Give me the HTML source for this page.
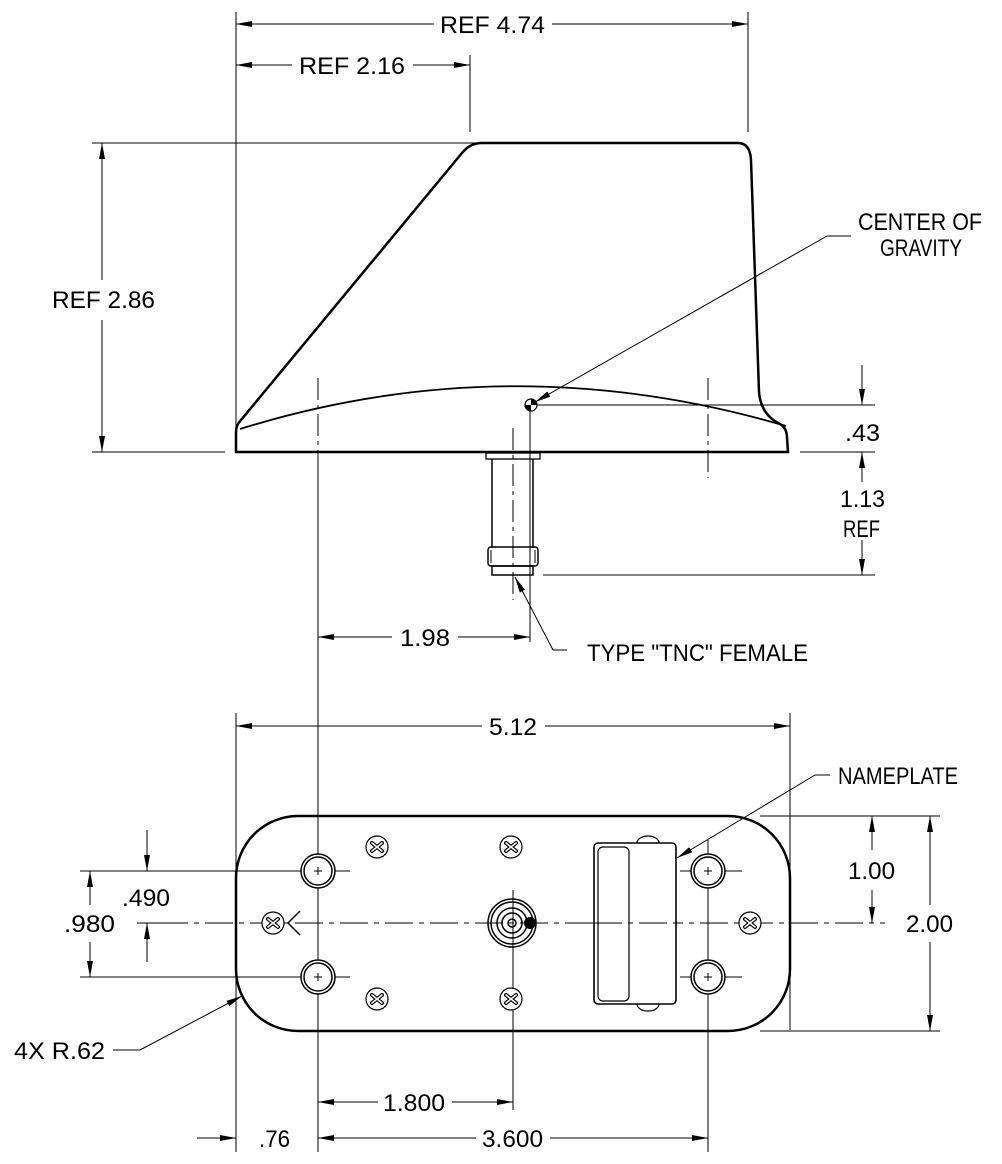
<!DOCTYPE html>
<html><head><meta charset="utf-8"><style>
html,body{margin:0;padding:0;background:#fff;}
svg{display:block;}
text{font-family:"Liberation Sans",sans-serif;font-size:24px;fill:#000;}
</style></head><body>
<svg width="1002" height="1164" viewBox="0 0 1002 1164" xmlns="http://www.w3.org/2000/svg">
<defs>
<marker id="a" viewBox="0 0 16 6" refX="16" refY="3" markerWidth="16" markerHeight="6" markerUnits="userSpaceOnUse" orient="auto"><path d="M0,0 L16,3 L0,6 Z" fill="#000"/></marker>
<g id="scr"><circle r="11" fill="#fff" stroke="#000" stroke-width="1.2"/><path d="M-5,-4 L5,4 M-5,4 L5,-4" stroke="#000" stroke-width="4" stroke-linecap="round"/><path d="M-5,-4 L5,4 M-5,4 L5,-4" stroke="#fff" stroke-width="1.6" stroke-linecap="round"/></g>
<g id="hole"><circle r="17" fill="#fff" stroke="#000" stroke-width="1.5"/><circle r="14" fill="none" stroke="#000" stroke-width="1.5"/><path d="M-4,0 H4 M0,-4 V4" stroke="#000" stroke-width="1"/></g>
</defs>
<g stroke="#000" stroke-width="1" fill="none">
<line x1="236" y1="12" x2="236" y2="452"/>
<line x1="236" y1="713" x2="236" y2="1152"/>
<line x1="748" y1="12" x2="748" y2="132"/>
<line x1="470" y1="55" x2="470" y2="132"/>
<line x1="92" y1="143" x2="478" y2="143"/>
<line x1="92" y1="452" x2="225" y2="452"/>
<line x1="318" y1="452" x2="318" y2="1152"/>
<line x1="708" y1="378" x2="708" y2="478" stroke-dasharray="22,5,4,5"/>
<line x1="513" y1="428" x2="513" y2="600" stroke-dasharray="22,5,4,5"/>
<line x1="530" y1="400" x2="530" y2="642"/>
<line x1="535" y1="405" x2="875" y2="405"/>
<line x1="800" y1="452" x2="875" y2="452"/>
<line x1="543" y1="575" x2="875" y2="575"/>
<line x1="790" y1="713" x2="790" y2="1030"/>
<line x1="760" y1="816" x2="940" y2="816"/>
<line x1="760" y1="1031" x2="940" y2="1031"/>
<line x1="80" y1="871" x2="350" y2="871"/>
<line x1="80" y1="977" x2="350" y2="977"/>
<line x1="680" y1="871" x2="742" y2="871"/>
<line x1="680" y1="977" x2="742" y2="977"/>
<line x1="513" y1="890" x2="513" y2="1110"/>
<line x1="708" y1="840" x2="708" y2="1152"/>
<line x1="434" y1="24" x2="236" y2="24" marker-end="url(#a)"/>
<line x1="552" y1="24" x2="748" y2="24" marker-end="url(#a)"/>
<line x1="292" y1="65" x2="236" y2="65" marker-end="url(#a)"/>
<line x1="413" y1="65" x2="470" y2="65" marker-end="url(#a)"/>
<line x1="102" y1="280" x2="102" y2="143" marker-end="url(#a)"/>
<line x1="102" y1="320" x2="102" y2="452" marker-end="url(#a)"/>
<line x1="862" y1="365" x2="862" y2="405" marker-end="url(#a)"/>
<line x1="862" y1="482" x2="862" y2="452" marker-end="url(#a)"/>
<line x1="862" y1="540" x2="862" y2="575" marker-end="url(#a)"/>
<line x1="392" y1="637" x2="318" y2="637" marker-end="url(#a)"/>
<line x1="458" y1="637" x2="530" y2="637" marker-end="url(#a)"/>
<line x1="482" y1="726" x2="236" y2="726" marker-end="url(#a)"/>
<line x1="545" y1="726" x2="790" y2="726" marker-end="url(#a)"/>
<line x1="872" y1="850" x2="872" y2="816" marker-end="url(#a)"/>
<line x1="872" y1="890" x2="872" y2="923" marker-end="url(#a)"/>
<line x1="930" y1="905" x2="930" y2="816" marker-end="url(#a)"/>
<line x1="930" y1="942" x2="930" y2="1031" marker-end="url(#a)"/>
<line x1="147" y1="830" x2="147" y2="871" marker-end="url(#a)"/>
<line x1="147" y1="962" x2="147" y2="923" marker-end="url(#a)"/>
<line x1="137" y1="923" x2="160" y2="923"/>
<line x1="90" y1="905" x2="90" y2="871" marker-end="url(#a)"/>
<line x1="90" y1="942" x2="90" y2="977" marker-end="url(#a)"/>
<line x1="378" y1="1102" x2="318" y2="1102" marker-end="url(#a)"/>
<line x1="452" y1="1102" x2="513" y2="1102" marker-end="url(#a)"/>
<line x1="476" y1="1138" x2="318" y2="1138" marker-end="url(#a)"/>
<line x1="550" y1="1138" x2="708" y2="1138" marker-end="url(#a)"/>
<line x1="197" y1="1138" x2="236" y2="1138" marker-end="url(#a)"/>
<polyline points="851,236 827,236"/>
<line x1="827" y1="236" x2="535" y2="402" marker-end="url(#a)"/>
<polyline points="567,650 553,650"/>
<line x1="553" y1="650" x2="515" y2="577" marker-end="url(#a)"/>
<polyline points="830,775 815,775"/>
<line x1="815" y1="775" x2="677" y2="858" marker-end="url(#a)"/>
<polyline points="113,1050 140,1050"/>
<line x1="140" y1="1050" x2="242" y2="996" marker-end="url(#a)"/>
<line x1="160" y1="923" x2="885" y2="923" stroke-dasharray="28,6,5,6"/>
</g>
<g stroke="#000" fill="none" stroke-width="2.5">
<path d="M236,452 L236,432 Q236,425 241,420 L462,153 Q470,143 482,143 L738,143 Q750,143 751,160 L759,392 Q761,415 780,424 Q787,428 787,438 L788,452 Z"/>
<path d="M240,429 Q510,345 786,426" stroke-width="1.8"/>
<rect x="486" y="453" width="54" height="6" stroke-width="1.3"/>
<path d="M492,459 V548 M533,459 V548" stroke-width="1.5"/>
<rect x="488" y="547" width="50" height="19" rx="3" stroke-width="1.5"/>
<path d="M491,550 V563 M535,550 V563" stroke-width="1"/>
<rect x="492" y="566" width="41" height="9" stroke-width="1.5"/>
</g>
<line x1="318" y1="378" x2="318" y2="452" stroke="#000" stroke-dasharray="22,5,4,5"/>
<circle cx="531" cy="405" r="6" fill="#fff" stroke="#000" stroke-width="1.2"/>
<path d="M531,405 L531,399 A6,6 0 0 1 537,405 Z M531,405 L525,405 A6,6 0 0 0 531,411 Z" fill="#000"/>
<rect x="236" y="816" width="554" height="215" rx="62" fill="none" stroke="#000" stroke-width="2.5"/>
<ellipse cx="648" cy="843" rx="11" ry="7" fill="#fff" stroke="#000" stroke-width="1.2"/>
<ellipse cx="648" cy="1004" rx="11" ry="7" fill="#fff" stroke="#000" stroke-width="1.2"/>
<rect x="594" y="843" width="82" height="161" rx="4" fill="#fff" stroke="#000" stroke-width="1.6"/>
<rect x="598" y="847" width="31" height="154" rx="5" fill="none" stroke="#000" stroke-width="1.2"/>
<line x1="594" y1="923" x2="676" y2="923" stroke="#000" stroke-dasharray="28,6,5,6"/>
<use href="#hole" x="318" y="871"/><use href="#hole" x="318" y="977"/>
<use href="#hole" x="708" y="871"/><use href="#hole" x="708" y="977"/>
<use href="#scr" x="377" y="847"/><use href="#scr" x="511" y="847"/>
<use href="#scr" x="377" y="999"/><use href="#scr" x="511" y="999"/>
<use href="#scr" x="273" y="923"/><use href="#scr" x="750" y="923"/>
<path d="M300,911 L288,923 L300,935" fill="none" stroke="#000" stroke-width="1.5"/>
<g fill="none" stroke="#000" stroke-width="1.5">
<circle cx="512" cy="923" r="24"/><circle cx="512" cy="923" r="21"/><circle cx="512" cy="923" r="15"/><circle cx="512" cy="923" r="10"/><circle cx="512" cy="923" r="4"/>
</g>
<circle cx="530" cy="923" r="6" fill="#000"/>
<line x1="513" y1="892" x2="513" y2="954" stroke="#000"/>
<g lengthAdjust="spacingAndGlyphs">
<text x="440" y="33" textLength="105" lengthAdjust="spacingAndGlyphs">REF 4.74</text>
<text x="299" y="74" textLength="106" lengthAdjust="spacingAndGlyphs">REF 2.16</text>
<text x="52" y="308" textLength="103" lengthAdjust="spacingAndGlyphs">REF 2.86</text>
<text x="858" y="230" textLength="124" lengthAdjust="spacingAndGlyphs">CENTER OF</text>
<text x="880" y="256" textLength="82" lengthAdjust="spacingAndGlyphs">GRAVITY</text>
<text x="845" y="441" textLength="35" lengthAdjust="spacingAndGlyphs">.43</text>
<text x="840" y="507" textLength="45" lengthAdjust="spacingAndGlyphs">1.13</text>
<text x="843" y="537" textLength="37" lengthAdjust="spacingAndGlyphs">REF</text>
<text x="400" y="646" textLength="50" lengthAdjust="spacingAndGlyphs">1.98</text>
<text x="587" y="661" textLength="221" lengthAdjust="spacingAndGlyphs">TYPE "TNC" FEMALE</text>
<text x="489" y="735" textLength="48" lengthAdjust="spacingAndGlyphs">5.12</text>
<text x="838" y="784" textLength="120" lengthAdjust="spacingAndGlyphs">NAMEPLATE</text>
<text x="848" y="879" textLength="47" lengthAdjust="spacingAndGlyphs">1.00</text>
<text x="906" y="932" textLength="47" lengthAdjust="spacingAndGlyphs">2.00</text>
<text x="122" y="906" textLength="48" lengthAdjust="spacingAndGlyphs">.490</text>
<text x="64" y="932" textLength="51" lengthAdjust="spacingAndGlyphs">.980</text>
<text x="14" y="1059" textLength="91" lengthAdjust="spacingAndGlyphs">4X R.62</text>
<text x="383" y="1111" textLength="62" lengthAdjust="spacingAndGlyphs">1.800</text>
<text x="482" y="1147" textLength="61" lengthAdjust="spacingAndGlyphs">3.600</text>
<text x="259" y="1147" textLength="31" lengthAdjust="spacingAndGlyphs">.76</text>
</g>
</svg>
</body></html>
